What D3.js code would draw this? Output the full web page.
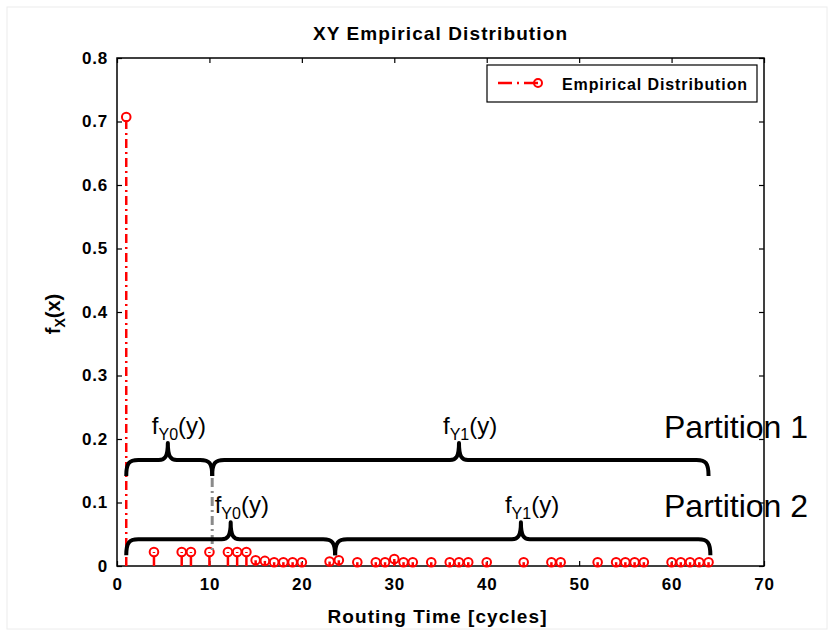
<!DOCTYPE html>
<html>
<head>
<meta charset="utf-8">
<script src="https://cdn.jsdelivr.net/npm/d3@7"></script>
<style>
  body { margin: 0; background: #fff; }
  text { font-family: "Liberation Sans", Arial, sans-serif; }
</style>
</head>
<body>
<svg id="chart" width="832" height="631"></svg>
<script>
"use strict";

// routing time (cycles) and empirical probability
var times = [1, 4, 7, 8, 10, 12, 13, 14, 15, 16, 17, 18, 19, 20, 23, 24, 26, 28, 29, 30,
             31, 32, 34, 36, 37, 38, 40, 44, 47, 48, 52, 54, 55, 56, 57, 60, 61, 62, 63, 64];
var probs = [0.707, 0.022, 0.022, 0.022, 0.022, 0.022, 0.022, 0.022, 0.009, 0.008, 0.006, 0.006, 0.006, 0.006, 0.007, 0.009, 0.006, 0.006, 0.006, 0.011,
             0.006, 0.006, 0.006, 0.006, 0.006, 0.006, 0.006, 0.006, 0.006, 0.006, 0.006, 0.006, 0.006, 0.006, 0.006, 0.006, 0.006, 0.006, 0.006, 0.006];

var xTicks = [0, 10, 20, 30, 40, 50, 60, 70];
var yTicks = [0, 0.1, 0.2, 0.3, 0.4, 0.5, 0.6, 0.7, 0.8];

// partition braces: start, end, peak (cycles), level (probability axis)
var partition1 = [{from: 1, to: 10.3, peak: 5.5, label: "0"}, {from: 10.3, to: 64, peak: 37, label: "1"}];
var partition2 = [{from: 1, to: 23.6, peak: 12.3, label: "0"}, {from: 23.6, to: 64.2, peak: 43.7, label: "1"}];
var partitionLevels = [0.167, 0.042];
var partitionNames = ["Partition 1", "Partition 2"];

var data = times.map(function(t, i) { return {time: t, p: probs[i]}; });

var svg = d3.select("#chart"),
    margin = {top: 58, right: 68, bottom: 65, left: 117},
    width = +svg.attr("width") - margin.left - margin.right,
    height = +svg.attr("height") - margin.top - margin.bottom;

// faint outer frame
svg.append("rect")
    .attr("x", 7).attr("y", 7).attr("width", 820).attr("height", 622)
    .attr("fill", "none").attr("stroke", "#ececec");

var g = svg.append("g").attr("transform", "translate(" + margin.left + "," + margin.top + ")");

var x = d3.scaleLinear().domain([0, 70]).range([0, width]);
var y = d3.scaleLinear().domain([0, 0.8]).range([height, 0]);

function styleAxis(sel) {
  sel.select(".domain").remove();
  sel.selectAll(".tick line").attr("stroke", "#000").attr("stroke-width", 1.2);
  sel.selectAll(".tick text")
      .attr("font-size", 17).attr("font-weight", "bold")
      .attr("letter-spacing", 0.8).attr("fill", "#000");
}

g.append("g")
    .attr("transform", "translate(0," + height + ")")
    .call(d3.axisBottom(x).tickValues(xTicks).tickSize(-5).tickPadding(12).tickFormat(d3.format("d")))
    .call(styleAxis);

g.append("g")
    .call(d3.axisTop(x).tickValues(xTicks).tickSize(-5).tickFormat(""))
    .call(styleAxis);

g.append("g")
    .call(d3.axisLeft(y).tickValues(yTicks).tickSize(-5).tickPadding(9)
      .tickFormat(function(d) { return d === 0 ? "0" : d3.format(".1f")(d); }))
    .call(styleAxis);

g.append("g")
    .attr("transform", "translate(" + width + ",0)")
    .call(d3.axisRight(y).tickValues(yTicks).tickSize(-5).tickFormat(""))
    .call(styleAxis);

g.append("rect")
    .attr("width", width).attr("height", height)
    .attr("fill", "none").attr("stroke", "#000").attr("stroke-width", 1.5);

// stems
g.selectAll(".stem")
    .data(data)
  .enter().append("line")
    .attr("class", "stem")
    .attr("x1", function(d) { return x(d.time); })
    .attr("x2", function(d) { return x(d.time); })
    .attr("y1", y(0))
    .attr("y2", function(d) { return y(d.p); })
    .attr("stroke", "#f00")
    .attr("stroke-width", 2.5)
    .attr("stroke-dasharray", "9,4,2,4");

g.selectAll(".dot")
    .data(data)
  .enter().append("circle")
    .attr("class", "dot")
    .attr("cx", function(d) { return x(d.time); })
    .attr("cy", function(d) { return y(d.p); })
    .attr("r", 4.3)
    .attr("fill", "none")
    .attr("stroke", "#f00")
    .attr("stroke-width", 2);

// gray divider between partition 1 braces
g.append("line")
    .attr("x1", x(partition1[0].to)).attr("x2", x(partition1[0].to))
    .attr("y1", y(partitionLevels[0]) + 18).attr("y2", y(0.025))
    .attr("stroke", "#8a8a8a").attr("stroke-width", 3)
    .attr("stroke-dasharray", "9,4,2,4");

// curly brace path
function bracePath(b, level) {
  var x1 = x(b.from), x2 = x(b.to), xm = x(b.peak), y0 = y(level);
  var h = 16, up = 17, r = 12;
  return "M" + x1 + "," + (y0 + h) +
    "C" + x1 + "," + (y0 + 3) + " " + (x1 + 3) + "," + y0 + " " + (x1 + r) + "," + y0 +
    "L" + (xm - 9) + "," + y0 +
    "C" + (xm - 3) + "," + y0 + " " + xm + "," + (y0 - 3) + " " + xm + "," + (y0 - up) +
    "C" + xm + "," + (y0 - 3) + " " + (xm + 3) + "," + y0 + " " + (xm + 9) + "," + y0 +
    "L" + (x2 - r) + "," + y0 +
    "C" + (x2 - 3) + "," + y0 + " " + x2 + "," + (y0 + 3) + " " + x2 + "," + (y0 + h);
}

[partition1, partition2].forEach(function(part, k) {
  var level = partitionLevels[k];
  g.selectAll(".brace" + k)
      .data(part)
    .enter().append("path")
      .attr("d", function(b) { return bracePath(b, level); })
      .attr("fill", "none")
      .attr("stroke", "#000")
      .attr("stroke-width", 4)
      .attr("stroke-linejoin", "round");

  var lab = g.selectAll(".blabel" + k)
      .data(part)
    .enter().append("text")
      .attr("x", function(b) { return x(b.peak) - 16; })
      .attr("y", y(level) - 26)
      .attr("font-size", 24)
      .attr("fill", "#000");
  lab.append("tspan").text("f");
  lab.append("tspan").attr("font-size", 16).attr("dy", 6).text(function(b) { return "Y" + b.label; });
  lab.append("tspan").attr("dy", -6).text("(y)");

  g.append("text")
      .attr("x", width - 100)
      .attr("y", y(level) - 22)
      .attr("font-size", 32)
      .attr("fill", "#000")
      .text(partitionNames[k]);
});

// legend
var legend = g.append("g").attr("transform", "translate(" + (width - 277) + ",7)");
legend.append("rect")
    .attr("width", 270).attr("height", 37)
    .attr("fill", "#fff").attr("stroke", "#000").attr("stroke-width", 1.2);
legend.append("line")
    .attr("x1", 11).attr("x2", 51).attr("y1", 18).attr("y2", 18)
    .attr("stroke", "#f00").attr("stroke-width", 2.5)
    .attr("stroke-dasharray", "14,5,2,5");
legend.append("circle")
    .attr("cx", 51).attr("cy", 18).attr("r", 4)
    .attr("fill", "none").attr("stroke", "#f00").attr("stroke-width", 2);
legend.append("text")
    .attr("x", 75).attr("y", 25)
    .attr("font-size", 16).attr("font-weight", "bold").attr("letter-spacing", 0.9)
    .text("Empirical Distribution");

// title and axis labels
svg.append("text")
    .attr("x", margin.left + width / 2).attr("y", 40)
    .attr("text-anchor", "middle")
    .attr("font-size", 19).attr("font-weight", "bold").attr("letter-spacing", 1.1)
    .text("XY Empirical Distribution");

svg.append("text")
    .attr("x", margin.left + width / 2 - 3).attr("y", 623)
    .attr("text-anchor", "middle")
    .attr("font-size", 19).attr("font-weight", "bold").attr("letter-spacing", 1.1)
    .text("Routing Time [cycles]");

var ylab = svg.append("text")
    .attr("transform", "translate(60," + (margin.top + height / 2 + 2) + ") rotate(-90)")
    .attr("text-anchor", "middle")
    .attr("font-size", 20).attr("font-weight", "bold");
ylab.append("tspan").text("f");
ylab.append("tspan").attr("font-size", 14).attr("dy", 5).text("X");
ylab.append("tspan").attr("dy", -5).text("(x)");
</script>
</body>
</html>
